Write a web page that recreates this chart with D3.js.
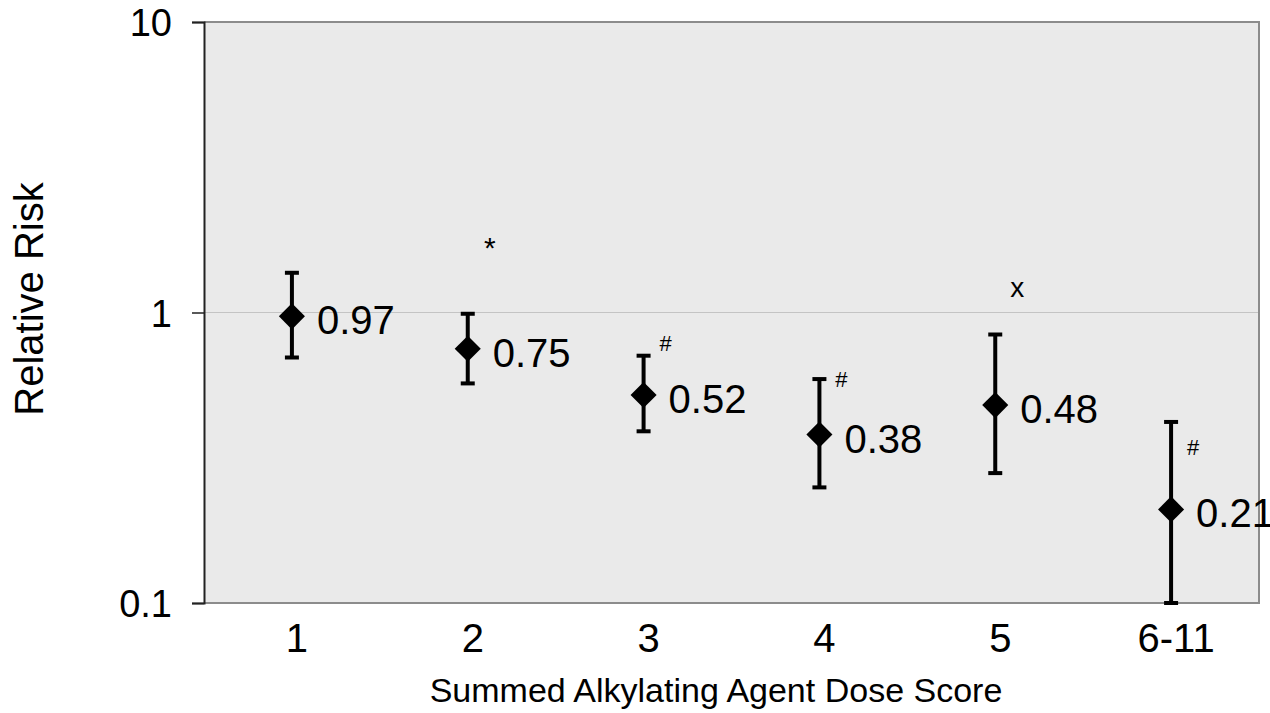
<!DOCTYPE html>
<html>
<head>
<meta charset="utf-8">
<script src="https://cdn.jsdelivr.net/npm/d3@7"></script>
<style>
  html, body { margin: 0; padding: 0; background: #fff; }
  svg { display: block; font-family: "Liberation Sans", Arial, sans-serif; }
</style>
</head>
<body>
<svg id="chart" width="1270" height="713"></svg>
<script>
// ---- data ----
const categories = ["1", "2", "3", "4", "5", "6-11"];
const relativeRisk = [0.97, 0.75, 0.52, 0.38, 0.48, 0.21];
const ciLower = [0.70, 0.57, 0.39, 0.25, 0.28, 0.10];
const ciUpper = [1.37, 0.99, 0.71, 0.59, 0.84, 0.42];
const valueLabels = ["0.97", "0.75", "0.52", "0.38", "0.48", "0.21"];
const markCategory = ["2", "3", "4", "5", "6-11"];
const markSymbol = ["*", "#", "#", "x", "#"];
const markValue = [1.67, 0.785, 0.586, 1.22, 0.344];
const markSize = [30, 22, 22, 28, 22];
const yTickValues = [0.1, 1, 10];
const yTickLabels = ["0.1", "1", "10"];
const xTitle = "Summed Alkylating Agent Dose Score";
const yTitle = "Relative Risk";

// ---- layout ----
const svg = d3.select("#chart");
const pL = 204, pT = 22, pR = 1259, pB = 603;

const x = d3.scaleBand().domain(categories).range([pL, pR]);
const y = d3.scaleLog().domain([0.1, 10]).range([pB, pT]);
const cx = c => x(c) + x.bandwidth() / 2;

// plot background
svg.append("rect")
  .attr("x", pL).attr("y", pT)
  .attr("width", pR - pL).attr("height", pB - pT)
  .attr("fill", "#eaeaea");

// gridline at 1
svg.append("line")
  .attr("x1", pL).attr("x2", pR)
  .attr("y1", y(1)).attr("y2", y(1))
  .attr("stroke", "#c4c4c4").attr("stroke-width", 1);

// border top/right/bottom
svg.append("path")
  .attr("d", `M${pL},${pT}H${pR}V${pB}H${pL}`)
  .attr("fill", "none").attr("stroke", "#8c8c8c").attr("stroke-width", 2);

// y axis
const yAxis = d3.axisLeft(y)
  .tickValues(yTickValues)
  .tickFormat((d, i) => yTickLabels[i])
  .tickSize(12).tickPadding(20);
const gy = svg.append("g").attr("transform", `translate(${pL},0)`).call(yAxis);
gy.select(".domain").attr("stroke", "#222").attr("stroke-width", 2);
gy.selectAll(".tick line").attr("stroke", "#222").attr("stroke-width", 1.5);
gy.selectAll(".tick text").attr("font-size", 38).attr("fill", "#000")
  .attr("font-family", "'Liberation Sans', Arial, sans-serif")
  .attr("dy", "0.36em");

// x tick labels
const xAxis = d3.axisBottom(x).tickSize(0).tickPadding(0);
const gx = svg.append("g").attr("transform", `translate(0,${pB})`).call(xAxis);
gx.select(".domain").remove();
gx.selectAll(".tick text")
  .attr("font-size", 40).attr("fill", "#000")
  .attr("font-family", "'Liberation Sans', Arial, sans-serif")
  .attr("dy", 0).attr("y", 49).attr("x", 5);

// error bars
const data = categories.map((c, i) => ({ c, v: relativeRisk[i], lo: ciLower[i], hi: ciUpper[i], lab: valueLabels[i] }));
const eb = svg.append("g").attr("stroke", "#000").attr("stroke-width", 4).attr("fill", "none");
data.forEach(d => {
  const X = cx(d.c);
  eb.append("line").attr("x1", X).attr("x2", X).attr("y1", y(d.hi)).attr("y2", y(d.lo));
  eb.append("line").attr("x1", X - 7).attr("x2", X + 7).attr("y1", y(d.hi)).attr("y2", y(d.hi));
  eb.append("line").attr("x1", X - 7).attr("x2", X + 7).attr("y1", y(d.lo)).attr("y2", y(d.lo));
});

// diamonds
svg.append("g").selectAll("path").data(data).join("path")
  .attr("d", d3.symbol(d3.symbolSquare, 340))
  .attr("transform", d => `translate(${cx(d.c)},${y(d.v)}) rotate(45)`)
  .attr("fill", "#000");

// value labels
svg.append("g").selectAll("text").data(data).join("text")
  .attr("x", d => cx(d.c) + 25)
  .attr("y", d => y(d.v) + 18)
  .attr("font-size", 40)
  .attr("fill", "#000")
  .text(d => d.lab);

// significance marks
svg.append("g").selectAll("text").data(markCategory).join("text")
  .attr("x", c => cx(c) + 22)
  .attr("y", (c, i) => y(markValue[i]))
  .attr("dominant-baseline", "central")
  .attr("text-anchor", "middle")
  .attr("font-size", (c, i) => markSize[i])
  .attr("fill", "#000")
  .text((c, i) => markSymbol[i]);

// axis titles
svg.append("text")
  .attr("x", 716).attr("y", 702)
  .attr("text-anchor", "middle")
  .attr("font-size", 34)
  .attr("fill", "#000")
  .text(xTitle);

svg.append("text")
  .attr("transform", "translate(43,299) rotate(-90)")
  .attr("text-anchor", "middle")
  .attr("font-size", 40)
  .attr("fill", "#000")
  .text(yTitle);
</script>
</body>
</html>
